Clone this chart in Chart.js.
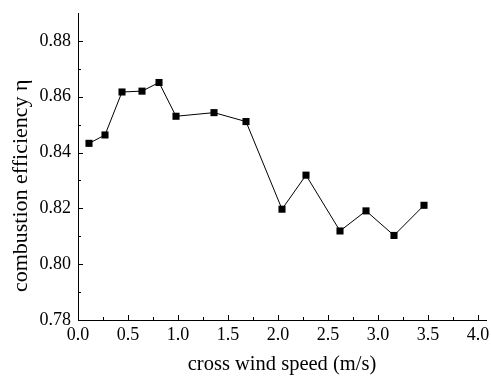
<!DOCTYPE html>
<html>
<head>
<meta charset="utf-8">
<script src="https://cdn.jsdelivr.net/npm/chart.js@4"></script>
<style>
html,body{margin:0;padding:0;background:#fff;}
#wrap{width:491px;height:376px;}
</style>
</head>
<body>
<div id="wrap"><canvas id="c" width="491" height="376"></canvas></div>
<script>
const windSpeed = [0.11, 0.27, 0.44, 0.64, 0.81, 0.98, 1.36, 1.68, 2.04, 2.28, 2.62, 2.88, 3.16, 3.46];
const efficiency = [0.8433, 0.8463, 0.8617, 0.8620, 0.8651, 0.8530, 0.8543, 0.8511, 0.8197, 0.8319, 0.8119, 0.8191, 0.8103, 0.8211];
const xMajorTicks = [0, 0.5, 1.0, 1.5, 2.0, 2.5, 3.0, 3.5, 4.0];
const xMinorTicks = [0.25, 0.75, 1.25, 1.75, 2.25, 2.75, 3.25, 3.75];
const yMajorTicks = [0.78, 0.80, 0.82, 0.84, 0.86, 0.88];
const yMinorTicks = [0.79, 0.81, 0.83, 0.85, 0.87];
const xTitle = 'cross wind speed (m/s)';
const yTitle = 'combustion efficiency η';

const FONT = "Liberation Serif";
Chart.defaults.font.family = FONT;
Chart.defaults.color = '#000';

const innerTicks = {
  id: 'innerTicks',
  afterDatasetsDraw(chart) {
    const ctx = chart.ctx;
    const xs = chart.scales.x, ys = chart.scales.y;
    const ca = chart.chartArea;
    ctx.save();
    ctx.strokeStyle = '#000';
    ctx.lineWidth = 1;
    ctx.beginPath();
    const drawX = (v, len) => {
      const px = Math.round(xs.getPixelForValue(v)) + 0.5;
      ctx.moveTo(px, ca.bottom);
      ctx.lineTo(px, ca.bottom - len);
    };
    const drawY = (v, len) => {
      const py = Math.round(ys.getPixelForValue(v)) + 0.5;
      ctx.moveTo(ca.left, py);
      ctx.lineTo(ca.left + len, py);
    };
    xMajorTicks.forEach(v => drawX(v, 5));
    xMinorTicks.forEach(v => drawX(v, 3));
    yMajorTicks.forEach(v => drawY(v, 5));
    yMinorTicks.forEach(v => drawY(v, 3));
    ctx.stroke();
    ctx.restore();
  }
};

new Chart(document.getElementById('c'), {
  type: 'scatter',
  data: {
    datasets: [{
      data: windSpeed.map((x, i) => ({x: x, y: efficiency[i]})),
      showLine: true,
      borderColor: '#000',
      borderWidth: 1,
      backgroundColor: '#000',
      pointStyle: 'rect',
      pointRadius: 5,
      pointHoverRadius: 5,
      pointBorderWidth: 0,
      tension: 0
    }]
  },
  options: {
    responsive: false,
    animation: false,
    events: [],
    layout: { padding: { top: 13, right: 1, left: 0, bottom: 0 } },
    plugins: { legend: { display: false }, tooltip: { enabled: false } },
    scales: {
      x: {
        type: 'linear',
        min: 0, max: 4.08,
        afterBuildTicks(s) { s.ticks = xMajorTicks.map(v => ({value: v})); },
        afterFit(s) { s.height = 56; s.paddingLeft = 0; s.paddingRight = 0; },
        grid: { display: true, drawOnChartArea: false, drawTicks: false },
        border: { display: true, color: '#000', width: 1 },
        ticks: {
          color: '#000', padding: 4,
          font: { family: FONT, size: 18 },
          callback: v => v.toFixed(1),
          maxRotation: 0, autoSkip: false
        },
        title: {
          display: true, text: xTitle, color: '#000',
          font: { family: FONT, size: 20.5 },
          padding: { top: 0, bottom: -1 }
        }
      },
      y: {
        type: 'linear',
        min: 0.78, max: 0.89,
        afterBuildTicks(s) { s.ticks = yMajorTicks.map(v => ({value: v})); },
        afterFit(s) { s.width = 78; s.paddingTop = 0; s.paddingBottom = 0; },
        grid: { display: true, drawOnChartArea: false, drawTicks: false },
        border: { display: true, color: '#000', width: 1 },
        ticks: {
          color: '#000', padding: 7,
          font: { family: FONT, size: 18 },
          callback: v => v.toFixed(2)
        },
        title: {
          display: true, text: yTitle + '\u00a0\u00a0\u00a0\u00a0\u00a0\u00a0\u00a0', color: '#000',
          font: { family: FONT, size: 22 },
          padding: { top: 8, bottom: 0 }
        }
      }
    }
  },
  plugins: [innerTicks]
});
</script>
</body>
</html>
